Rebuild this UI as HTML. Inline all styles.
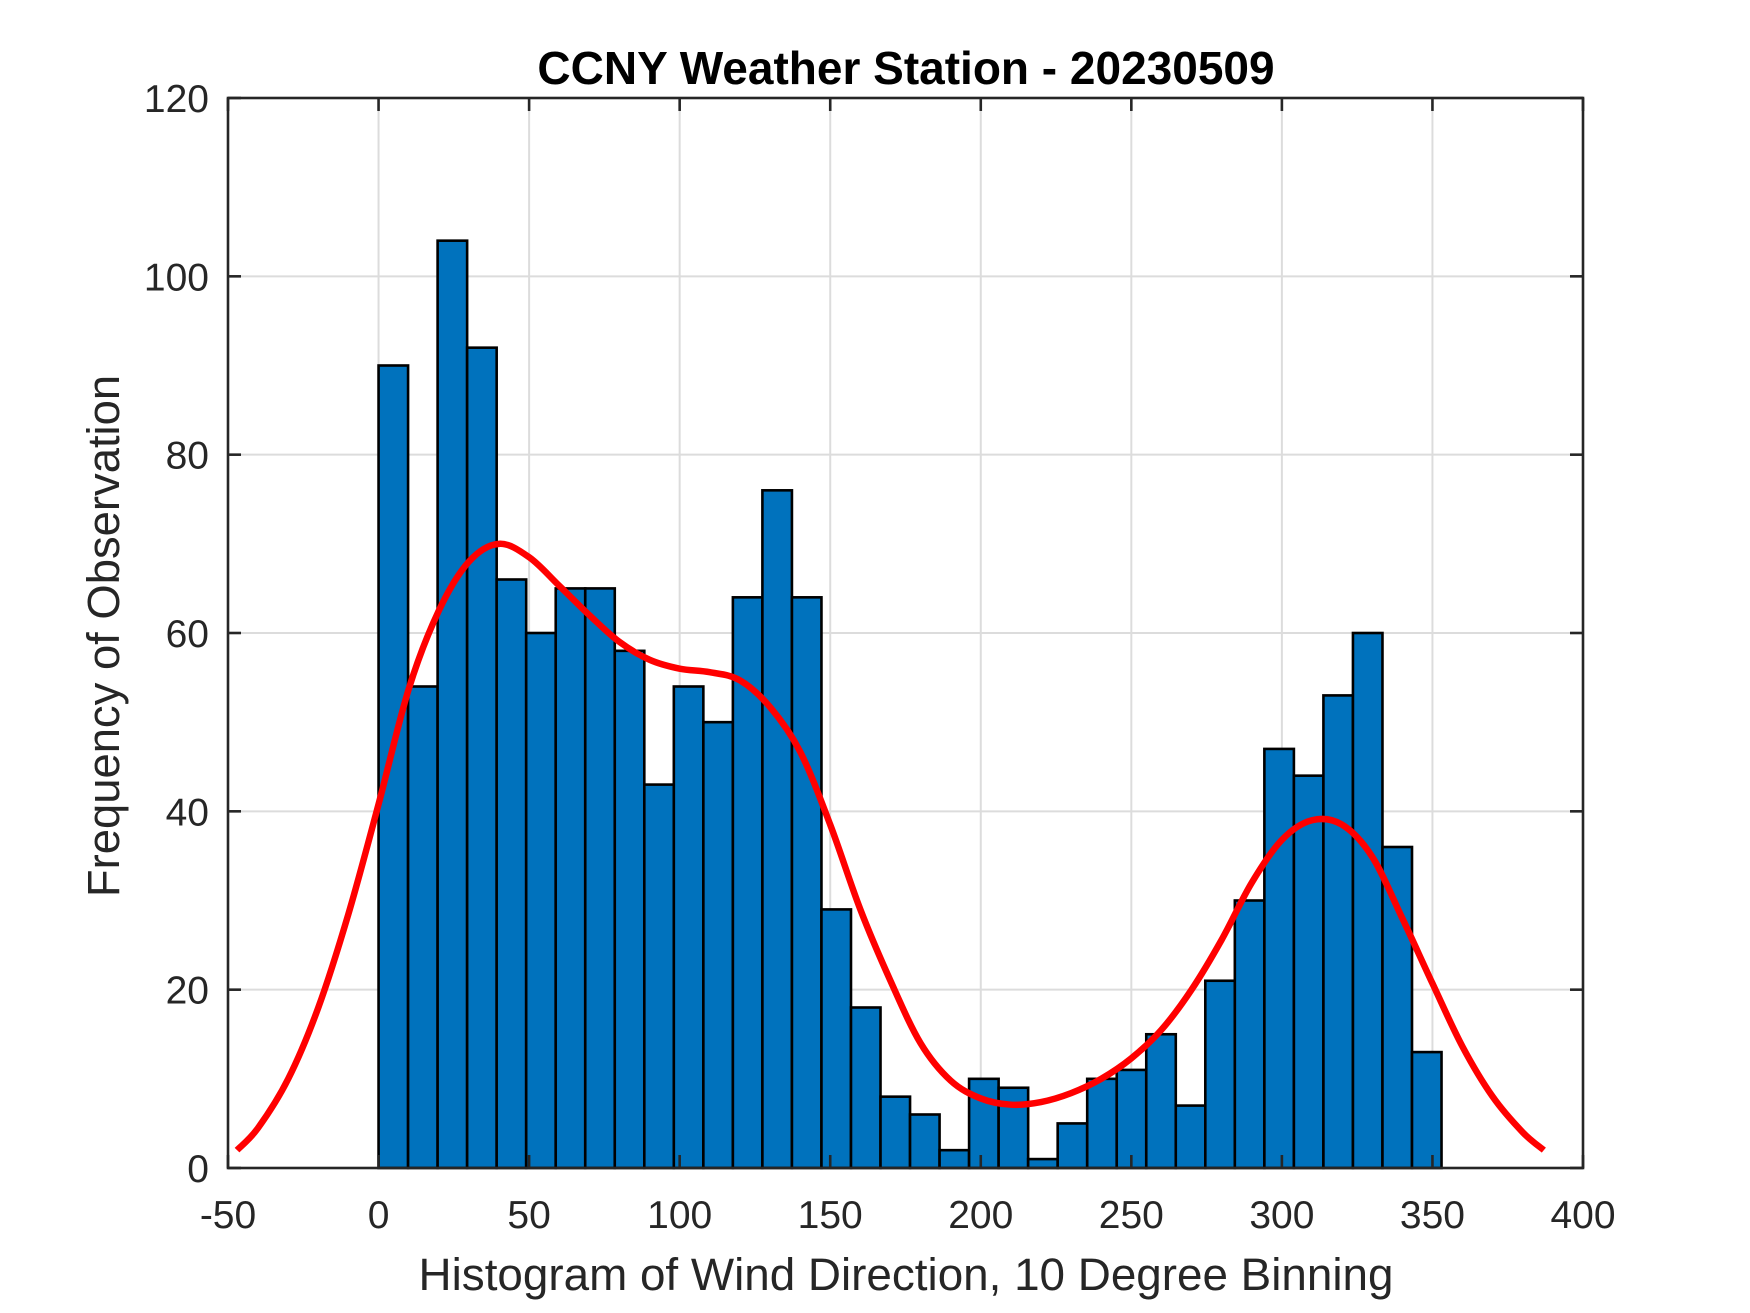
<!DOCTYPE html>
<html><head><meta charset="utf-8"><style>
html,body{margin:0;padding:0;background:#fff;}
svg{display:block;}
text{font-family:"Liberation Sans",Arial,sans-serif;fill:#262626;}
</style></head><body>
<svg id="chart" width="1750" height="1313" viewBox="0 0 1750 1313" xmlns="http://www.w3.org/2000/svg">
<rect width="1750" height="1313" fill="#fff"/>
<g id="grid"></g>
<g id="bars"></g>
<g id="curve"></g>
<g id="axes"></g>
<text x="906" y="84" text-anchor="middle" font-size="46" font-weight="bold" style="fill:#000">CCNY Weather Station - 20230509</text>
<text x="906" y="1290" text-anchor="middle" font-size="45.8">Histogram of Wind Direction, 10 Degree Binning</text>
<text x="0" y="0" text-anchor="middle" font-size="45.4" transform="translate(119,636) rotate(-90)">Frequency of Observation</text>
</svg>
<script>
const counts = [90,54,104,92,66,60,65,65,58,43,54,50,64,76,64,29,18,8,6,2,10,9,1,5,10,11,15,7,21,30,47,44,53,60,36,13];
const binStart = 0;
const binWidth = 9.806;
const curveX = [-47,-40,-30,-20,-10,0,10,20,30,40,50,60,70,80,90,100,110,120,130,140,150,160,170,180,190,200,210,220,230,240,250,260,270,280,290,300,310,320,330,340,350,360,370,380,387];
const curveY = [2,4.5,10,18,28.5,40.8,53.7,62.5,68,70,68.5,65.3,62,59,57,56,55.6,54.7,51.7,46.7,38.5,29,21,14,9.8,7.8,7.1,7.4,8.4,10,12.3,15.5,20,25.6,32,36.8,39,38.5,34.9,28,20.7,13.6,8,4,2];
const xTicks = [-50,0,50,100,150,200,250,300,350,400];
const yTicks = [0,20,40,60,80,100,120];

const NS = "http://www.w3.org/2000/svg";
const L = 228, R = 1583, T = 98, B = 1168;
const xMin = -50, xMax = 400, yMin = 0, yMax = 120;
function sx(v){ return L + (v - xMin) / (xMax - xMin) * (R - L); }
function sy(v){ return B - (v - yMin) / (yMax - yMin) * (B - T); }
function mk(tag, attrs, parent){
  const e = document.createElementNS(NS, tag);
  for (const k in attrs) e.setAttribute(k, attrs[k]);
  parent.appendChild(e); return e;
}
const grid = document.getElementById('grid');
const bars = document.getElementById('bars');
const curve = document.getElementById('curve');
const axes = document.getElementById('axes');

xTicks.forEach(t => {
  if (t === xMin || t === xMax) return;
  const g = mk('line', {x1:sx(t), x2:sx(t), y1:T, y2:B, stroke:'#dcdcdc', 'stroke-width':2}, grid);
  
  
});
yTicks.forEach(t => {
  if (t === yMin || t === yMax) return;
  const g = mk('line', {x1:L, x2:R, y1:sy(t), y2:sy(t), stroke:'#dcdcdc', 'stroke-width':2}, grid);
  
  
});

counts.forEach((c, i) => {
  const x0 = sx(binStart + i * binWidth), x1 = sx(binStart + (i + 1) * binWidth);
  const r = mk('rect', {x:x0, y:sy(c), width:x1 - x0, height:sy(0) - sy(c), fill:'#0072BD', stroke:'#000', 'stroke-width':2.6}, bars);
  
  
});

const pts = curveX.map((x, i) => [sx(x), sy(curveY[i])]);
let d = 'M' + pts[0][0] + ',' + pts[0][1];
for (let i = 0; i < pts.length - 1; i++) {
  const p0 = pts[Math.max(0, i - 1)], p1 = pts[i], p2 = pts[i + 1], p3 = pts[Math.min(pts.length - 1, i + 2)];
  const c1 = [p1[0] + (p2[0] - p0[0]) / 6, p1[1] + (p2[1] - p0[1]) / 6];
  const c2 = [p2[0] - (p3[0] - p1[0]) / 6, p2[1] - (p3[1] - p1[1]) / 6];
  d += ' C' + c1[0] + ',' + c1[1] + ' ' + c2[0] + ',' + c2[1] + ' ' + p2[0] + ',' + p2[1];
}
const path = mk('path', {d:d, fill:'none', stroke:'#ff0000', 'stroke-width':6.5, 'stroke-linejoin':'round'}, curve);



const box = mk('rect', {x:L, y:T, width:R - L, height:B - T, fill:'none', stroke:'#262626', 'stroke-width':2.6}, axes);



xTicks.forEach(t => {
  const x = sx(t);
  const a = mk('line', {x1:x, x2:x, y1:B, y2:B - 13, stroke:'#262626', 'stroke-width':2.6}, axes);
  
  
  const b = mk('line', {x1:x, x2:x, y1:T, y2:T + 13, stroke:'#262626', 'stroke-width':2.6}, axes);
  
  
  const lb = mk('text', {x:x, y:1228, 'text-anchor':'middle', 'font-size':39}, axes);
  lb.textContent = String(t);
  
  
});
yTicks.forEach(t => {
  const y = sy(t);
  const a = mk('line', {x1:L, x2:L + 13, y1:y, y2:y, stroke:'#262626', 'stroke-width':2.6}, axes);
  
  
  const b = mk('line', {x1:R, x2:R - 13, y1:y, y2:y, stroke:'#262626', 'stroke-width':2.6}, axes);
  
  
  const lb = mk('text', {x:209, y:y + 14, 'text-anchor':'end', 'font-size':39}, axes);
  lb.textContent = String(t);
  
  
});
</script>
</body></html>
